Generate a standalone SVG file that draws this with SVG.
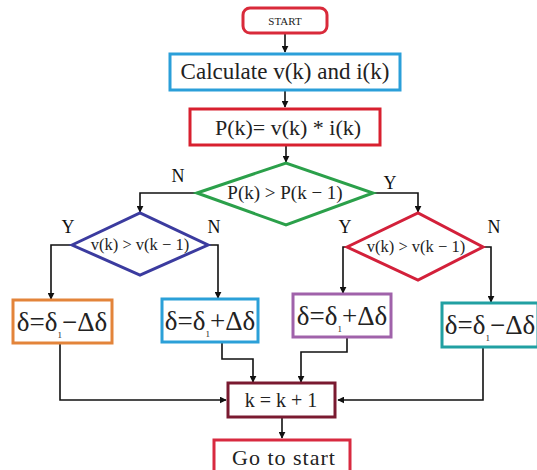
<svg xmlns="http://www.w3.org/2000/svg" width="537" height="470" viewBox="0 0 537 470">
<style>
.t{font-family:"Liberation Serif","Times New Roman",Tinos,"DejaVu Serif",serif;fill:#222;text-anchor:middle}
.b{fill:#fff;stroke-width:3}
.c{fill:none;stroke:#111;stroke-width:1.6}
.lbl{font-family:"Liberation Serif","Times New Roman",Tinos,"DejaVu Serif",serif;font-size:18px;fill:#111;text-anchor:middle}
</style>
<defs>
<marker id="ah" viewBox="0 0 10 10" refX="9" refY="5" markerWidth="7" markerHeight="7" orient="auto" markerUnits="userSpaceOnUse">
<path d="M0,0 L10,5 L0,10 z" fill="#111"/>
</marker>
</defs>
<rect width="537" height="470" fill="#fff"/>
<g id="connectors">
<path class="c" d="M285,33 V52" marker-end="url(#ah)"/>
<path class="c" d="M285,90 V107" marker-end="url(#ah)"/>
<path class="c" d="M286,145 V162" marker-end="url(#ah)"/>
<path class="c" d="M197,193 H140 V212" marker-end="url(#ah)"/>
<path class="c" d="M373,193 H418 V212" marker-end="url(#ah)"/>
<path class="c" d="M72,245 H51 V299" marker-end="url(#ah)"/>
<path class="c" d="M208,245 H218 V298" marker-end="url(#ah)"/>
<path class="c" d="M347,247 H343 V293" marker-end="url(#ah)"/>
<path class="c" d="M483,247 H491 V302" marker-end="url(#ah)"/>
<path class="c" d="M60,343 V400 H226" marker-end="url(#ah)"/>
<path class="c" d="M222,342 V359 H253 V382" marker-end="url(#ah)"/>
<path class="c" d="M347,337 V352 H301 V382" marker-end="url(#ah)"/>
<path class="c" d="M483,347 V400 H338" marker-end="url(#ah)"/>
<path class="c" d="M282,417 V438" marker-end="url(#ah)"/>
</g>
<g id="labels">
<text class="lbl" x="178" y="182">N</text>
<text class="lbl" x="390" y="189">Y</text>
<text class="lbl" x="68" y="233">Y</text>
<text class="lbl" x="214" y="233">N</text>
<text class="lbl" x="345" y="233">Y</text>
<text class="lbl" x="494" y="233">N</text>
</g>
<g id="start">
<rect class="b" x="243" y="8" width="84" height="25" rx="7" stroke="#d92a3a"/>
<text class="t" x="285" y="25" font-size="11">START</text>
</g>
<g id="calc">
<rect class="b" x="170" y="54" width="230" height="36" stroke="#2b9fd9"/>
<text class="t" x="285" y="79" font-size="23">Calculate v(k) and i(k)</text>
</g>
<g id="power">
<rect class="b" x="190" y="109" width="190" height="36" stroke="#d8202f"/>
<text class="t" x="288" y="135" font-size="22">P(k)= v(k) * i(k)</text>
</g>
<g id="d1">
<polygon class="b" points="197,193 286,163 373,193 286,225" stroke="#2ba04a"/>
<text class="t" x="285" y="199" font-size="19">P(k) &gt; P(k − 1)</text>
</g>
<g id="d2">
<polygon class="b" points="72,245 140,213 208,245 140,275" stroke="#3b3b9f"/>
<text class="t" x="140" y="250" font-size="16.5">v(k) &gt; v(k − 1)</text>
</g>
<g id="d3">
<polygon class="b" points="347,247 418,213 483,247 418,280" stroke="#d3203a"/>
<text class="t" x="416" y="252" font-size="16.5">v(k) &gt; v(k − 1)</text>
</g>
<g id="b1">
<rect class="b" x="13" y="300" width="99" height="43" stroke="#e3843a"/>
<text class="t" x="62" y="331" font-size="27">δ=δ<tspan font-size="9" dy="7">1</tspan><tspan dy="-7">−Δδ</tspan></text>
</g>
<g id="b2">
<rect class="b" x="162" y="299" width="96" height="43" stroke="#2ba0d8"/>
<text class="t" x="210" y="330" font-size="27">δ=δ<tspan font-size="9" dy="7">1</tspan><tspan dy="-7">+Δδ</tspan></text>
</g>
<g id="b3">
<rect class="b" x="293" y="294" width="98" height="43" stroke="#a062aa"/>
<text class="t" x="342" y="325" font-size="27">δ=δ<tspan font-size="9" dy="7">1</tspan><tspan dy="-7">+Δδ</tspan></text>
</g>
<g id="b4">
<rect class="b" x="442" y="303" width="96" height="44" stroke="#21a0a2"/>
<text class="t" x="490" y="334" font-size="27">δ=δ<tspan font-size="9" dy="7">1</tspan><tspan dy="-7">−Δδ</tspan></text>
</g>
<g id="inc">
<rect class="b" x="228" y="383" width="107" height="34" stroke="#7a1a30"/>
<text class="t" x="281" y="407" font-size="20">k = k + 1</text>
</g>
<g id="goto">
<rect class="b" x="214" y="440" width="136" height="34" stroke="#d82a40"/>
<text class="t" x="284" y="465" font-size="22" letter-spacing="1">Go to start</text>
</g>
</svg>
